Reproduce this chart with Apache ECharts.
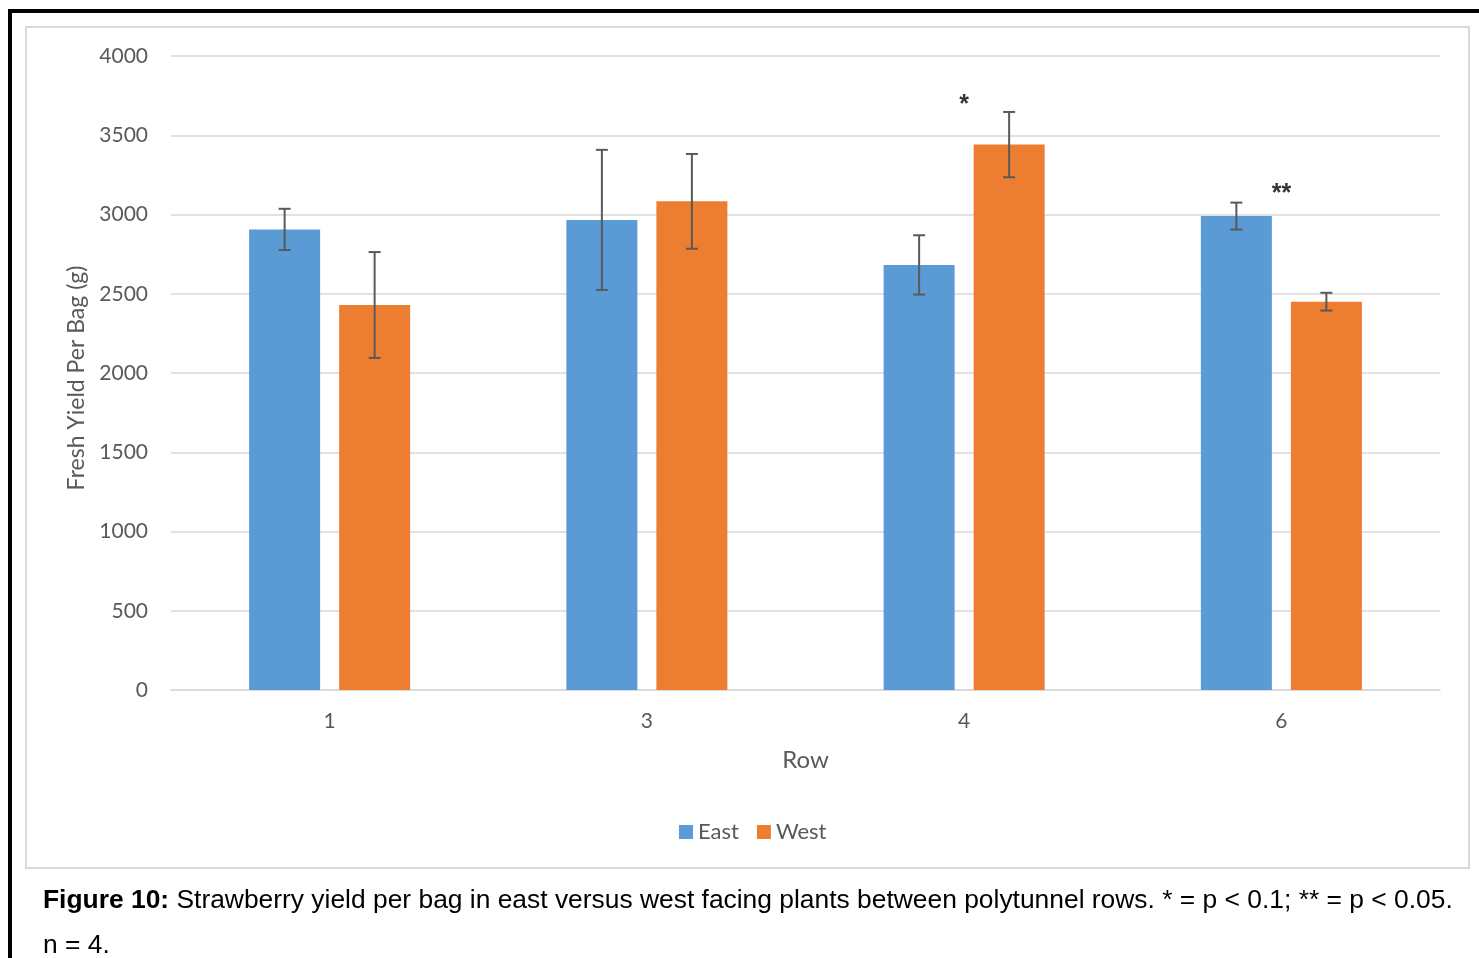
<!DOCTYPE html>
<html>
<head>
<meta charset="utf-8">
<title>Strawberry yield per bag</title>
<script src="https://cdn.jsdelivr.net/npm/echarts@6/dist/echarts.min.js"></script>
<style>
  html, body { margin: 0; padding: 0; background: #fff; }
  #chart { width: 1479px; height: 958px; }
</style>
</head>
<body>
<div id="chart"></div>
<script>
// data
const rows = ['1', '3', '4', '6'];
const eastMean = [2906, 2966, 2682, 2990];
const westMean = [2429, 3083, 3441, 2450];
const eastErr = [130, 442, 187, 85];
const westErr = [334, 299, 206, 56];
const yTicks = [0, 500, 1000, 1500, 2000, 2500, 3000, 3500, 4000];
// significance marks: row, y position (axis units), text
const sigRows = ['4', '6'];
const sigY = [3690, 3130];
const sigText = ['*', '**'];

const chart = echarts.init(document.getElementById('chart'));

const BAR_W = 71;
const BAR_GAP = 19;
const OFFSET = (BAR_W + BAR_GAP) / 2;

function errData(means, errs) {
  return means.map((m, i) => [i, m - errs[i], m + errs[i]]);
}

function errRender(dx) {
  return function (params, api) {
    const x = api.coord([api.value(0), 0])[0] + dx;
    const lo = api.coord([api.value(0), api.value(1)])[1];
    const hi = api.coord([api.value(0), api.value(2)])[1];
    const style = { stroke: '#595959', lineWidth: 2 };
    const cap = 6;
    return {
      type: 'group',
      children: [
        { type: 'line', shape: { x1: x, y1: hi, x2: x, y2: lo }, style: style },
        { type: 'line', shape: { x1: x - cap, y1: hi, x2: x + cap, y2: hi }, style: style },
        { type: 'line', shape: { x1: x - cap, y1: lo, x2: x + cap, y2: lo }, style: style }
      ]
    };
  };
}

const font = 'Lato, "Open Sans", sans-serif';
const capFont = '"Liberation Sans", Arial, sans-serif';

const option = {
  backgroundColor: '#fff',
  animation: false,
  grid: { left: 171, right: 39, top: 56, bottom: 268 },
  legend: {
    data: ['East', 'West'],
    top: 816,
    left: 674,
    itemWidth: 14,
    itemHeight: 14,
    itemGap: 18,
    icon: 'rect',
    textStyle: { fontFamily: font, fontSize: 22, color: '#595959' }
  },
  xAxis: {
    type: 'category',
    data: rows,
    name: 'Row',
    nameLocation: 'middle',
    nameGap: 58,
    nameTextStyle: { fontFamily: font, fontSize: 24, color: '#595959' },
    axisLine: { lineStyle: { color: '#d9d9d9', width: 1.5 } },
    axisTick: { show: false },
    axisLabel: { fontFamily: font, fontSize: 21, color: '#595959', margin: 21 }
  },
  yAxis: {
    type: 'value',
    min: yTicks[0],
    max: yTicks[yTicks.length - 1],
    interval: yTicks[1] - yTicks[0],
    name: 'Fresh Yield Per Bag (g)',
    nameLocation: 'middle',
    nameGap: 83,
    nameTextStyle: { fontFamily: font, fontSize: 23, color: '#595959', padding: [0, 10, 0, 0] },
    axisLine: { show: false },
    axisTick: { show: false },
    axisLabel: {
      fontFamily: font, fontSize: 21, color: '#595959', margin: 23,
      formatter: (v) => String(v)
    },
    splitLine: { lineStyle: { color: '#d9d9d9', width: 1.5 } }
  },
  series: [
    {
      name: 'East', type: 'bar', data: eastMean,
      barWidth: BAR_W, barGap: (BAR_GAP / BAR_W * 100).toFixed(1) + '%',
      itemStyle: { color: '#5B9BD5' }
    },
    {
      name: 'West', type: 'bar', data: westMean,
      barWidth: BAR_W,
      itemStyle: { color: '#ED7D31' }
    },
    {
      type: 'custom', name: 'East err', data: errData(eastMean, eastErr),
      renderItem: errRender(-OFFSET), z: 5, silent: true
    },
    {
      type: 'custom', name: 'West err', data: errData(westMean, westErr),
      renderItem: errRender(OFFSET), z: 5, silent: true
    },
    {
      type: 'scatter', name: 'sig', symbolSize: 0, silent: true,
      data: sigRows.map((r, i) => ({ value: [r, sigY[i]], label: { formatter: sigText[i] } })),
      label: {
        show: true, position: 'inside',
        fontFamily: capFont, fontSize: 25, fontWeight: 'bold', color: '#000'
      }
    }
  ],
  graphic: [
    {
      type: 'rect', z: -1,
      shape: { x: 26, y: 27, width: 1443, height: 841 },
      style: { fill: 'none', stroke: '#d9d9d9', lineWidth: 2 }
    },
    {
      type: 'line',
      shape: { x1: 8, y1: 11, x2: 1479, y2: 11 },
      style: { stroke: '#000', lineWidth: 4 }
    },
    {
      type: 'line',
      shape: { x1: 10, y1: 9, x2: 10, y2: 958 },
      style: { stroke: '#000', lineWidth: 4 }
    },
    {
      type: 'text', left: 43, top: 888,
      style: {
        text: '{b|Figure 10:} Strawberry yield per bag in east versus west facing plants between polytunnel rows. * = p < 0.1; ** = p < 0.05.',
        font: '26.4px ' + capFont,
        fill: '#000',
        rich: { b: { fontWeight: 'bold', fontSize: 26.4, fontFamily: capFont } }
      }
    },
    {
      type: 'text', left: 43, top: 933,
      style: {
        text: 'n = 4.',
        font: '26.4px ' + capFont,
        fill: '#000'
      }
    }
  ]
};

chart.setOption(option);
</script>
</body>
</html>
